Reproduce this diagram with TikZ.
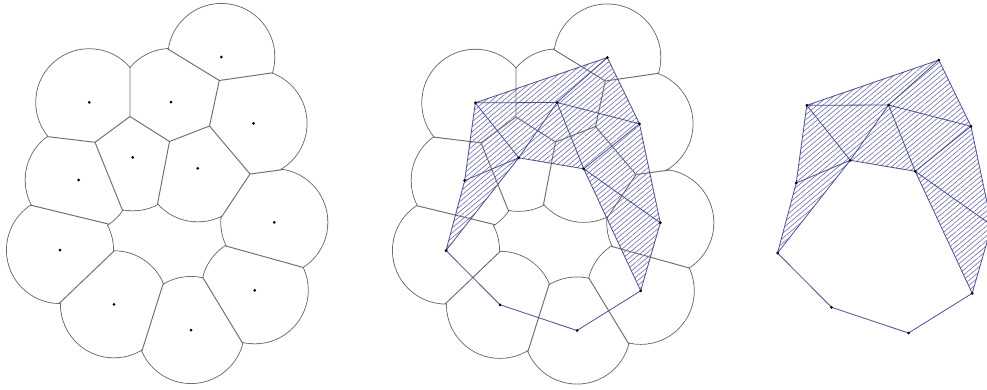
\documentclass[tikz,border=0pt]{standalone}
\usetikzlibrary{calc,patterns.meta}
\definecolor{vgray}{RGB}{110,110,110}
\definecolor{cedge}{RGB}{78,78,148}
\definecolor{chatch}{RGB}{108,108,170}
\tikzset{
  vline/.style={draw=vgray, line width=0.95pt},
  cline/.style={draw=cedge, line width=0.8pt},
  hatchfill/.style={pattern={Lines[angle=40,distance=3.8pt,line width=0.6pt]}, pattern color=chatch},
  site/.style={circle, fill=black, inner sep=0pt, minimum size=3pt},
}
\newcommand\Rr{53.5pt}
\newcommand\defsites{%
  \coordinate (A) at (221.3,57);
  \coordinate (B) at (89.3,102.3);
  \coordinate (C) at (171,102);
  \coordinate (D) at (253.5,123.3);
  \coordinate (E) at (132.7,157.3);
  \coordinate (F) at (197.7,168.3);
  \coordinate (G) at (78.7,180);
  \coordinate (H) at (274.3,222.3);
  \coordinate (I) at (60,250);
  \coordinate (J) at (254.7,290.3);
  \coordinate (K) at (114,304.3);
  \coordinate (L) at (191,330);
}
\newcommand\defvor{%
  \coordinate (vACD) at (219.3,80.5);
  \coordinate (vCDF) at (209.5,126);
  \coordinate (vBCE) at (130,116.5);
  \coordinate (vCEF) at (169.5,141.5);
  \coordinate (vDFH) at (250,174);
  \coordinate (vBEG) at (95,142.3);
  \coordinate (cAC) at (168.3,49.3);
  \coordinate (cAD) at (273.3,72.7);
  \coordinate (cBC) at (130,66.7);
  \coordinate (cDH) at (280,170);
  \coordinate (cFH) at (221.7,216.7);
  \coordinate (cEF) at (157.3,205);
  \coordinate (cBG) at (48.3,136.7);
  \coordinate (cEG) at (121.7,208.3);
  \coordinate (cGIa) at (30,205);
  \coordinate (cGIb) at (108.3,224);
  \coordinate (cIKa) at (113.3,251.7);
  \coordinate (cIKb) at (61,301.7);
  \coordinate (cKLa) at (163.3,283.3);
  \coordinate (cKLb) at (141.7,351.7);
  \coordinate (cLJa) at (203.3,278.3);
  \coordinate (cLJb) at (242.7,343.3);
  \coordinate (cHJa) at (226,246);
  \coordinate (cHJb) at (304,267.7);
}
\newcommand\voronoicells{%
  \foreach \p in {A,B,C,D,E,F,G,H,I,J,K,L}{\draw[vline] (\p) circle[radius=\Rr];}
  \foreach \p in {A,B,C,D,E,F,G,H,I,J,K,L}{\fill[white] (\p) circle[radius=52.98pt];}
  \begin{scope}
    \clip (A) circle[radius=\Rr] (B) circle[radius=\Rr] (C) circle[radius=\Rr]
          (D) circle[radius=\Rr] (E) circle[radius=\Rr] (F) circle[radius=\Rr]
          (G) circle[radius=\Rr] (H) circle[radius=\Rr] (I) circle[radius=\Rr]
          (J) circle[radius=\Rr] (K) circle[radius=\Rr] (L) circle[radius=\Rr];
    \draw[vline, shorten <=-4pt, shorten >=-4pt] (cAC) -- (vACD) -- (cAD);
    \draw[vline] (vACD) -- (vCDF);
    \draw[vline, shorten <=-4pt, shorten >=-4pt] (cBC) -- (vBCE) -- (vCEF) -- (vCDF) -- (vDFH) -- (cDH);
    \draw[vline] (vBCE) -- (vBEG);
    \draw[vline, shorten <=-4pt, shorten >=-4pt] (cBG) -- (vBEG) -- (cEG);
    \draw[vline, shorten >=-4pt] (vCEF) -- (cEF);
    \draw[vline, shorten >=-4pt] (vDFH) -- (cFH);
    \draw[vline, shorten <=-4pt, shorten >=-4pt] (cGIa) -- (cGIb);
    \draw[vline, shorten <=-4pt, shorten >=-4pt] (cIKa) -- (cIKb);
    \draw[vline, shorten <=-4pt, shorten >=-4pt] (cKLa) -- (cKLb);
    \draw[vline, shorten <=-4pt, shorten >=-4pt] (cLJa) -- (cLJb);
    \draw[vline, shorten <=-4pt, shorten >=-4pt] (cHJa) -- (cHJb);
  \end{scope}
}
\newcommand\alphacomplex{%
  \path[hatchfill] (A) -- (B) -- (C) -- cycle  (A) -- (C) -- (D) -- cycle
    (B) -- (C) -- (E) -- cycle  (B) -- (E) -- (G) -- cycle
    (G) -- (E) -- (I) -- cycle  (C) -- (E) -- (F) -- cycle
    (C) -- (D) -- (F) -- cycle  (D) -- (F) -- (H) -- cycle
    (F) -- (H) -- (J) -- cycle;
  \draw[cline] (A) -- (B) (B) -- (C) (C) -- (A) (C) -- (D) (D) -- (A)
    (B) -- (E) (C) -- (E) (E) -- (G) (G) -- (B) (G) -- (I) (I) -- (E)
    (E) -- (F) (F) -- (C) (D) -- (F) (D) -- (H) (F) -- (H) (H) -- (J)
    (F) -- (J) (I) -- (K) (K) -- (L) (L) -- (J);
}
\newcommand\sitedots{%
  \foreach \p in {A,B,C,D,E,F,G,H,I,J,K,L}{\node[site] (d\p) at (\p) {};}
}
\begin{document}
\begin{tikzpicture}[x=1pt,y=-1pt]
\useasboundingbox (0,0) rectangle (987,389);
\clip (0,0) rectangle (987,389);
\begin{scope}[name prefix=l-]
  \defsites
  \defvor
  \voronoicells
  \sitedots
\end{scope}
\begin{scope}[shift={(386,0.5)}, name prefix=m-]
  \defsites
  \defvor
  \voronoicells
  \alphacomplex
  \sitedots
\end{scope}
\begin{scope}[shift={(717.5,3)}, name prefix=r-]
  \defsites
  \alphacomplex
  \sitedots
\end{scope}
\end{tikzpicture}
\end{document}
